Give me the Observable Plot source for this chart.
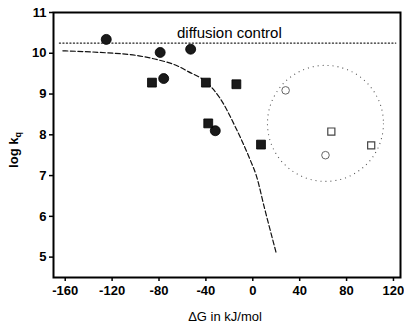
<!DOCTYPE html>
<html><head><meta charset="utf-8">
<script src="https://cdn.jsdelivr.net/npm/d3@7"></script>
<script src="https://cdn.jsdelivr.net/npm/@observablehq/plot@0.6"></script>
<style>
body{margin:0;background:#fff}
#chart svg{font-family:"Liberation Sans",Arial,sans-serif}
</style>
</head><body><div id="chart"></div>
<script>
const xTicks = [-160, -120, -80, -40, 0, 40, 80, 120];
const yTicks = [5, 6, 7, 8, 9, 10, 11];
const filledCircles = [
  {dG: -125, logk: 10.34}, {dG: -79, logk: 10.02}, {dG: -53, logk: 10.1},
  {dG: -76, logk: 9.38}, {dG: -32, logk: 8.1}
];
const filledSquares = [
  {dG: -86, logk: 9.28}, {dG: -40, logk: 9.28}, {dG: -14, logk: 9.24},
  {dG: -38, logk: 8.28}, {dG: 7, logk: 7.76}
];
const openCircles = [{dG: 28, logk: 9.09}, {dG: 62, logk: 7.5}];
const openSquares = [{dG: 67, logk: 8.08}, {dG: 101, logk: 7.74}];
const fitCurve = [
  {dG: -162, logk: 10.06}, {dG: -130, logk: 10.02}, {dG: -100, logk: 9.95},
  {dG: -81, logk: 9.84}, {dG: -65, logk: 9.7}, {dG: -55, logk: 9.55},
  {dG: -40, logk: 9.3}, {dG: -28, logk: 8.9}, {dG: -15, logk: 8.2},
  {dG: -2, logk: 7.37}, {dG: 3, logk: 7.0}, {dG: 10, logk: 6.2}, {dG: 20, logk: 5.1}
];
const diffusionLine = [{dG: -165, logk: 10.25}, {dG: 122, logk: 10.25}];
const diffusionLabel = [{dG: -20, logk: 10.5, text: "diffusion control"}];
const groupCircle = [{dG: 62, logk: 8.28}];

const chart = Plot.plot({
  width: 404, height: 323,
  marginLeft: 53, marginRight: 4, marginTop: 12, marginBottom: 46,
  style: {fontFamily: "'Liberation Sans', Arial, sans-serif", fontSize: "13px", color: "#000", background: "#fff"},
  x: {domain: [-170, 126], ticks: xTicks, tickSize: 4, tickPadding: 4, tickFormat: d => String(d), label: null},
  y: {domain: [4.5, 11], ticks: yTicks, tickSize: 4, tickPadding: 3, tickFormat: d => String(d), label: null},
  marks: [
    Plot.line(diffusionLine, {x: "dG", y: "logk", stroke: "#222", strokeWidth: 1.2, strokeDasharray: "1.2,2.3"}),
    Plot.line(fitCurve, {x: "dG", y: "logk", curve: "monotone-x", stroke: "#111", strokeWidth: 1.2, strokeDasharray: "5,2.5"}),
    Plot.dot(groupCircle, {x: "dG", y: "logk", r: 58, stroke: "#555", strokeWidth: 1.1, strokeDasharray: "1,4", fill: "none"}),
    Plot.dot(filledCircles, {x: "dG", y: "logk", r: 5, fill: "#1a1a1a", stroke: "#000", strokeWidth: 0.8}),
    Plot.dot(filledSquares, {x: "dG", y: "logk", symbol: "square", r: 5, fill: "#1a1a1a", stroke: "#000", strokeWidth: 0.8}),
    Plot.dot(openCircles, {x: "dG", y: "logk", r: 3.8, fill: "#fff", stroke: "#666", strokeWidth: 1}),
    Plot.dot(openSquares, {x: "dG", y: "logk", symbol: "square", r: 4, fill: "#fff", stroke: "#444", strokeWidth: 1.2}),
    Plot.text(diffusionLabel, {x: "dG", y: "logk", text: "text", fontSize: 15, fill: "#000", stroke: "#fff", strokeWidth: 3, paintOrder: "stroke"}),
    Plot.frame({stroke: "#000", strokeWidth: 2})
  ]
});
const svg = d3.select(chart);
svg.selectAll("g[aria-label^='x-axis'] text, g[aria-label^='y-axis'] text")
  .style("font-weight", "bold").style("font-size", "13px");
svg.selectAll("g[aria-label^='x-axis'] path, g[aria-label^='y-axis'] path").attr("stroke-width", 1.5);
// axis titles
const yl = svg.append("text").attr("transform", "translate(18,150) rotate(-90)")
  .attr("text-anchor", "middle").style("font-size", "13px").style("font-weight", "bold");
yl.append("tspan").text("log k");
yl.append("tspan").attr("font-size", "9px").attr("dy", "3").text("q");
svg.append("text").attr("x", 225).attr("y", 321).attr("text-anchor", "middle")
  .style("font-size", "13px").text("ΔG in kJ/mol");
document.getElementById("chart").append(chart);
</script>
</body></html>
